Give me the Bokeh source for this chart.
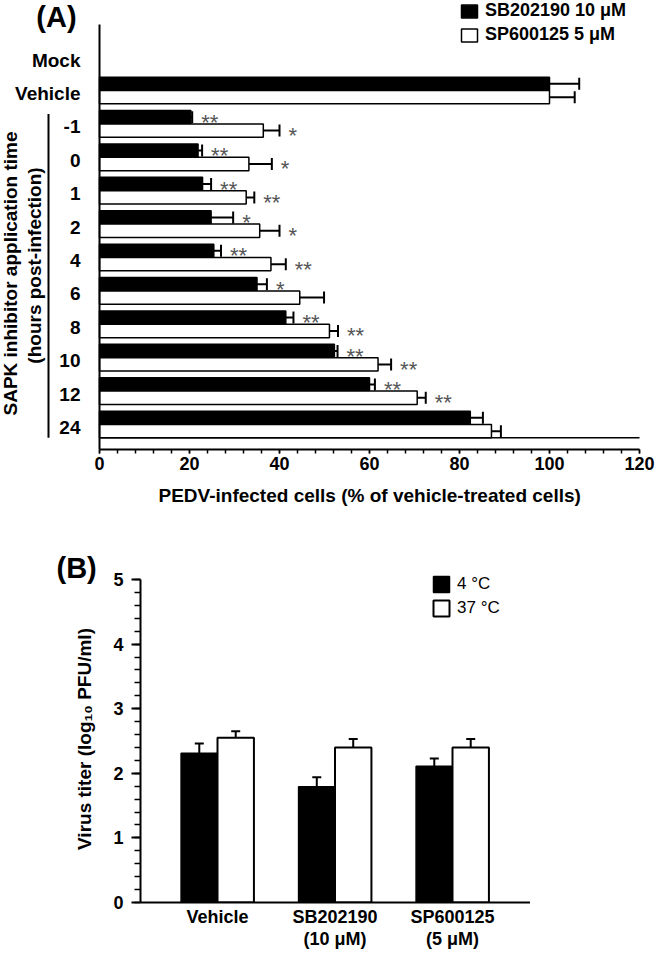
import math
from bokeh.plotting import figure
from bokeh.models import (ColumnDataSource, Range1d, Whisker, TeeHead, Legend, LegendItem,
                          SingleIntervalTicker, FixedTicker, Title)
from bokeh.core.properties import value
from bokeh.embed import file_html
from bokeh.resources import INLINE

FONT = "Liberation Sans"

# ---------------- data: panel A ----------------
a_categories = ["Mock", "Vehicle", "-1", "0", "1", "2", "4", "6", "8", "10", "12", "24"]
a_sb_values = [0, 100, 20.3, 21.9, 22.9, 24.8, 25.4, 35.0, 41.4, 52.2, 60.0, 82.4]
a_sb_errors = [0, 6.6, 0.3, 0.9, 1.9, 4.9, 1.6, 2.2, 1.7, 0.7, 1.2, 2.8]
a_sp_values = [0, 100, 36.4, 33.2, 32.6, 35.6, 38.1, 44.5, 51.1, 61.9, 70.6, 87.1]
a_sp_errors = [0, 5.6, 3.6, 5.1, 1.8, 4.4, 3.3, 5.4, 1.9, 2.9, 1.9, 2.1]
a_sb_signif = ["", "", "**", "**", "**", "*", "**", "*", "**", "**", "**", ""]
a_sp_signif = ["", "", "*", "*", "**", "*", "**", "", "**", "**", "**", ""]
a_series = ["SB202190 10 μM", "SP600125 5 μM"]
a_x_max = 120
a_xlabel = "PEDV-infected cells (% of vehicle-treated cells)"
a_ylabel = ["SAPK inhibitor application time", "(hours post-infection)"]

# ---------------- data: panel B ----------------
b_categories = ["Vehicle", "SB202190\n(10 μM)", "SP600125\n(5 μM)"]
b_4c_values = [2.31, 1.79, 2.11]
b_4c_errors = [0.15, 0.15, 0.12]
b_37c_values = [2.55, 2.40, 2.40]
b_37c_errors = [0.10, 0.13, 0.13]
b_series = ["4 °C", "37 °C"]
b_y_max = 5
b_ylabel = "Virus titer (log₁₀ PFU/ml)"

# ---------------- layout (page pixels) ----------------
PAGE = 8
A_W, A_H = 656, 540
A_X0 = 107.0      # page x of value 0
A_PXU = 4.5       # px per unit
A_ROW0 = 64.6     # page y of first category centre
A_ROW = 33.4      # px per category
A_BOTTOM = 457.0  # page y of x axis


def ax(px):
    return (px - A_X0) / A_PXU


def ay(py):
    return (py - A_ROW0) / A_ROW


pa = figure(width=A_W, height=A_H,
            x_range=Range1d(ax(PAGE), ax(PAGE + A_W)),
            y_range=Range1d(ay(A_BOTTOM), ay(PAGE)),
            y_axis_location=None, output_backend="svg", toolbar_location=None,
            min_border_left=0, min_border_right=0, min_border_top=0,
            min_border_bottom=int(A_H - (A_BOTTOM - PAGE)))
pa.grid.grid_line_color = None
pa.outline_line_color = None

n = len(a_categories)
rows = [i for i in range(n) if a_sb_values[i] > 0]
half = 0.2
src_sb = ColumnDataSource(dict(
    y=[i - half for i in rows],
    right=[a_sb_values[i] for i in rows],
    hi=[a_sb_values[i] + a_sb_errors[i] for i in rows],
    sig=[a_sb_signif[i] for i in rows]))
src_sp = ColumnDataSource(dict(
    y=[i + half for i in rows],
    right=[a_sp_values[i] for i in rows],
    hi=[a_sp_values[i] + a_sp_errors[i] for i in rows],
    sig=[a_sp_signif[i] for i in rows]))

r_sb = pa.hbar(y="y", left=0, right="right", height=2 * half, source=src_sb,
               fill_color="black", line_color="black", line_width=1.5)
r_sp = pa.hbar(y="y", left=0, right="right", height=2 * half, source=src_sp,
               fill_color="white", line_color="black", line_width=1.5)

for src in (src_sb, src_sp):
    pa.add_layout(Whisker(source=src, base="y", lower="right", upper="hi", dimension="width",
                          line_width=2, line_color="black",
                          upper_head=TeeHead(size=12, line_width=2, line_color="black"),
                          lower_head=None))
    pa.text(x="hi", y="y", text="sig", source=src, x_offset=9, y_offset=5,
            text_align="left", text_baseline="middle", text_font=value(FONT),
            text_font_size="22px", text_color="#555555")

# vertical axis line and bottom frame line
pa.segment(x0=[0], y0=[ay(32)], x1=[0], y1=[ay(A_BOTTOM)], line_width=2, line_color="black")
pa.segment(x0=[0], y0=[n - 1 + 2 * half], x1=[a_x_max], y1=[n - 1 + 2 * half],
           line_width=1.5, line_color="black")

# category labels
pa.text(x=[0] * n, y=list(range(n)), text=a_categories, x_offset=-19, y_offset=3,
        text_align="right", text_baseline="middle", text_font=value(FONT),
        text_font_style="bold", text_font_size="19px", text_color="black")

# bracket + rotated two-line title
first_t = a_categories.index("-1")
pa.segment(x0=[ax(56)], y0=[first_t - 0.3], x1=[ax(56)], y1=[n - 1 + 2 * half],
           line_width=2, line_color="black")
pa.text(x=[ax(18), ax(42)], y=[ay(281), ay(273)], text=a_ylabel, angle=math.pi / 2,
        text_align="center", text_baseline="middle", text_font=value(FONT),
        text_font_style="bold", text_font_size="19px", text_color="black")

# panel letter
pa.text(x=[ax(64)], y=[ay(24)], text=["(A)"], text_align="center", text_baseline="middle",
        text_font=value(FONT), text_font_style="bold", text_font_size="29px",
        text_color="black")

xa = pa.xaxis[0]
xa.bounds = (0, a_x_max)
xa.ticker = SingleIntervalTicker(interval=20, num_minor_ticks=5)
xa.axis_line_width = 2
xa.major_tick_line_width = 1.5
xa.minor_tick_line_width = 1.5
xa.major_tick_out = 4
xa.major_tick_in = 0
xa.minor_tick_out = 4
xa.minor_tick_in = 0
xa.major_label_text_font = FONT
xa.major_label_text_font_style = "bold"
xa.major_label_text_font_size = "18px"
xa.major_label_text_color = "black"
xa.major_label_standoff = 3

pa.add_layout(Title(text=a_xlabel, align="left", offset=166 - PAGE, standoff=24,
                    vertical_align="top",
                    text_font=FONT, text_font_style="bold", text_font_size="19px",
                    text_color="black"), "below")

leg_a = Legend(items=[LegendItem(label=a_series[0], renderers=[r_sb]),
                      LegendItem(label=a_series[1], renderers=[r_sp])],
               location=(459, 404), padding=0, margin=0, spacing=3,
               glyph_width=20, glyph_height=16, label_standoff=6, label_height=20,
               label_text_font=FONT, label_text_font_style="bold",
               label_text_font_size="18px", label_text_color="black",
               border_line_alpha=0, background_fill_alpha=0)
pa.add_layout(leg_a)

# ---------------- panel B ----------------
B_TOP = PAGE + A_H
B_W, B_H = 530, 960 - A_H
B_LEFT, B_RIGHT = 148.0, 538.0
B_FTOP, B_FBOT = 583.0, 910.0
B_C0, B_CPX = 225.0, 117.5     # page x of first group centre, px per group
B_PXU = 64.6                   # px per log unit


def bx(px):
    return (px - B_C0) / B_CPX


def by(py):
    return (B_FBOT - py) / B_PXU


pb = figure(width=B_W, height=B_H,
            x_range=Range1d(bx(B_LEFT), bx(B_RIGHT)),
            y_range=Range1d(0, by(B_FTOP)),
            output_backend="svg", toolbar_location=None,
            min_border_left=int(B_LEFT - PAGE), min_border_right=0,
            min_border_top=int(B_FTOP - B_TOP),
            min_border_bottom=int(B_TOP + B_H - B_FBOT))
pb.grid.grid_line_color = None
pb.outline_line_color = None

off, bw = 0.155, 0.31
m = len(b_categories)
src4 = ColumnDataSource(dict(x=[i - off for i in range(m)], top=b_4c_values,
                             hi=[v + e for v, e in zip(b_4c_values, b_4c_errors)]))
src37 = ColumnDataSource(dict(x=[i + off for i in range(m)], top=b_37c_values,
                              hi=[v + e for v, e in zip(b_37c_values, b_37c_errors)]))
r4 = pb.vbar(x="x", top="top", bottom=0, width=bw, source=src4,
             fill_color="black", line_color="black", line_width=1.5)
r37 = pb.vbar(x="x", top="top", bottom=0, width=bw, source=src37,
              fill_color="white", line_color="black", line_width=2)
for src in (src4, src37):
    pb.add_layout(Whisker(source=src, base="x", lower="top", upper="hi", dimension="height",
                          line_width=2, line_color="black",
                          upper_head=TeeHead(size=9, line_width=2, line_color="black"),
                          lower_head=None))

xb = pb.xaxis[0]
xb.ticker = FixedTicker(ticks=list(range(m)))
xb.major_label_overrides = {i: lab for i, lab in enumerate(b_categories)}
xb.major_tick_out = 0
xb.major_tick_in = 0
xb.minor_tick_out = 0
xb.axis_line_width = 2
xb.major_label_text_font = FONT
xb.major_label_text_font_style = "bold"
xb.major_label_text_font_size = "18px"
xb.major_label_text_color = "black"
xb.major_label_text_line_height = 1.1
xb.major_label_standoff = 4

yb = pb.yaxis[0]
yb.bounds = (0, b_y_max)
yb.ticker = SingleIntervalTicker(interval=1, num_minor_ticks=5)
yb.axis_line_width = 2
yb.major_tick_line_width = 2
yb.minor_tick_line_width = 1.5
yb.major_tick_out = 9
yb.major_tick_in = 0
yb.minor_tick_out = 6
yb.minor_tick_in = 0
yb.major_label_text_font = FONT
yb.major_label_text_font_style = "bold"
yb.major_label_text_font_size = "18px"
yb.major_label_text_color = "black"
yb.major_label_standoff = 8
yb.axis_label = b_ylabel
yb.axis_label_text_font = FONT
yb.axis_label_text_font_style = "bold"
yb.axis_label_text_font_size = "19px"
yb.axis_label_text_color = "black"
yb.axis_label_standoff = 15

pb.add_layout(Title(text="(B)", align="left", offset=64 - B_LEFT, standoff=-17,
                    vertical_align="bottom", text_font=FONT, text_font_style="bold",
                    text_font_size="29px", text_color="black"), "above")

leg_b = Legend(items=[LegendItem(label=b_series[0], renderers=[r4]),
                      LegendItem(label=b_series[1], renderers=[r37])],
               location=(439 - B_LEFT, B_FBOT - 626), padding=0, margin=0, spacing=4,
               glyph_width=20, glyph_height=20, label_standoff=6, label_height=20,
               label_text_font=FONT, label_text_font_size="17px",
               label_text_color="black",
               border_line_alpha=0, background_fill_alpha=0)
pb.add_layout(leg_b)

open("out.html", "w").write(file_html([pa, pb], INLINE))
